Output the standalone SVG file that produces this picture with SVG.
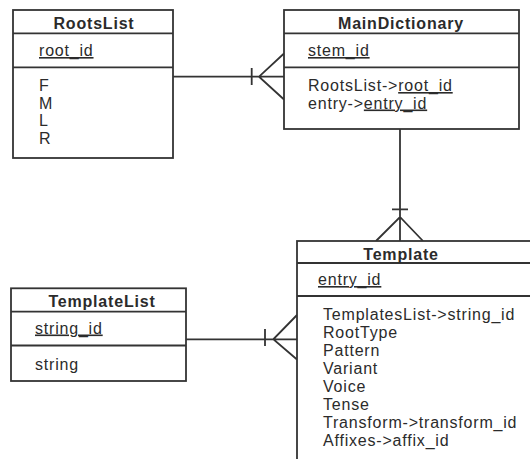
<svg xmlns="http://www.w3.org/2000/svg" width="530" height="459" viewBox="0 0 530 459">
<style>
.box{fill:#fff;stroke:#333;stroke-width:1.8}
.ln{stroke:#333;stroke-width:1.8;fill:none}
.title{font-family:"Liberation Sans",Arial,sans-serif;font-size:16px;font-weight:bold;fill:#2b2b2b;letter-spacing:0.8px;text-anchor:middle}
.t{font-family:"Liberation Sans",Arial,sans-serif;font-size:16px;fill:#2b2b2b;letter-spacing:0.8px}
.u{text-decoration:underline}
</style>
<rect width="530" height="459" fill="#fff"/>
<g id="connectors">
  <!-- RootsList to MainDictionary -->
  <path class="ln" d="M173,76.7 H284 M251.7,68 V85 M284,53.5 L259,76.7 L284,99.5"/>
  <!-- MainDictionary to Template -->
  <path class="ln" d="M400,129 V241 M392,209.3 H408 M376,241 L400,217 L423,241"/>
  <!-- TemplateList to Template -->
  <path class="ln" d="M186,339.3 H297 M265,329 V346 M297,315 L273.3,339.3 L297,359.5"/>
</g>
<g id="RootsList">
  <rect class="box" x="13" y="10" width="160" height="148"/>
  <path class="ln" d="M13,33.3 H173 M13,67.3 H173"/>
  <text class="title" x="94" y="28.5">RootsList</text>
  <text class="t u" x="39" y="56">root_id</text>
  <text class="t" x="39" y="91">F</text>
  <text class="t" x="39" y="108.5">M</text>
  <text class="t" x="39" y="126">L</text>
  <text class="t" x="39" y="143.5">R</text>
</g>
<g id="MainDictionary">
  <rect class="box" x="284" y="10" width="235" height="119"/>
  <path class="ln" d="M284,33.3 H519 M284,67.3 H519"/>
  <text class="title" x="401" y="28.5">MainDictionary</text>
  <text class="t u" x="308" y="56">stem_id</text>
  <text class="t" x="308" y="91">RootsList-&gt;<tspan class="u">root_id</tspan></text>
  <text class="t" x="308" y="108.5">entry-&gt;<tspan class="u">entry_id</tspan></text>
</g>
<g id="Template">
  <rect class="box" x="297" y="241" width="260" height="240"/>
  <path class="ln" d="M297,263 H530 M297,296 H530"/>
  <text class="title" x="401" y="259.5">Template</text>
  <text class="t u" x="318" y="285">entry_id</text>
  <text class="t" x="323" y="320">TemplatesList-&gt;string_id</text>
  <text class="t" x="323" y="338">RootType</text>
  <text class="t" x="323" y="356">Pattern</text>
  <text class="t" x="323" y="374">Variant</text>
  <text class="t" x="323" y="391.5">Voice</text>
  <text class="t" x="323" y="409.5">Tense</text>
  <text class="t" x="323" y="427.5">Transform-&gt;transform_id</text>
  <text class="t" x="323" y="445.5">Affixes-&gt;affix_id</text>
</g>
<g id="TemplateList">
  <rect class="box" x="11" y="288.3" width="175" height="92.7"/>
  <path class="ln" d="M11,311.7 H186 M11,345.5 H186"/>
  <text class="title" x="102" y="306.5">TemplateList</text>
  <text class="t u" x="35" y="333.5">string_id</text>
  <text class="t" x="35" y="369.5">string</text>
</g>
</svg>
